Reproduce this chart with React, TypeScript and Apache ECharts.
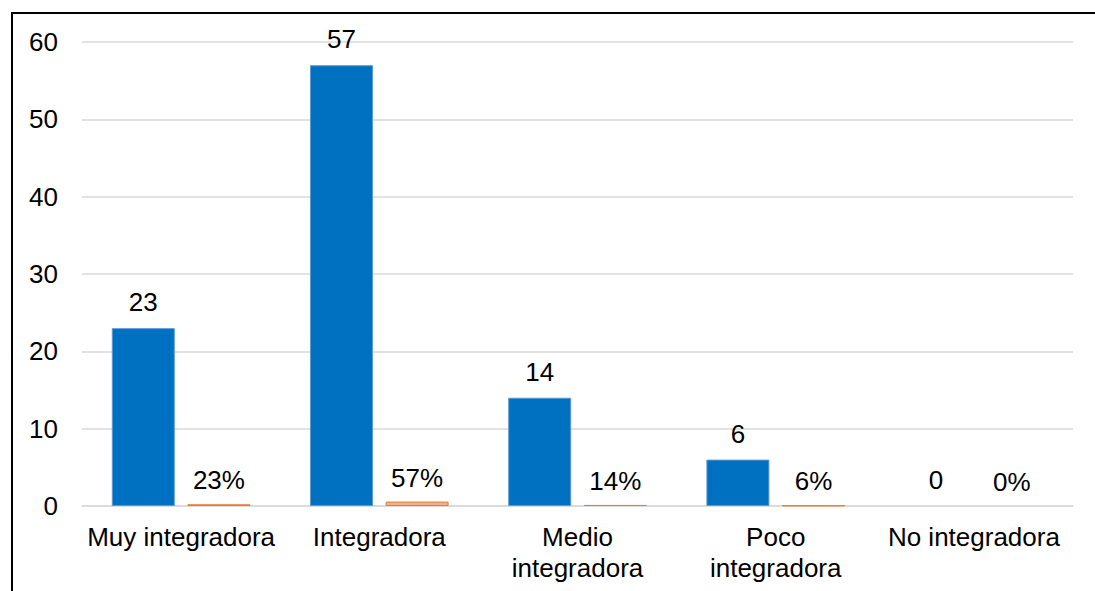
import React, { useEffect, useRef } from "react";
import * as echarts from "echarts";

const categories = ["Muy integradora", "Integradora", "Medio\nintegradora", "Poco\nintegradora", "No integradora"];
const counts = [23, 57, 14, 6, 0];
const shares = [0.23, 0.57, 0.14, 0.06, 0];
const yTicks = { min: 0, max: 60, interval: 10 };

const FONT = "'Liberation Sans', Arial, sans-serif";
const FS = 26;

export default function App() {
  const ref = useRef<HTMLDivElement>(null);
  useEffect(() => {
    if (!ref.current) return;
    const chart = echarts.init(ref.current, null, { renderer: "svg" });
    const toItems = (vals: number[]) =>
      vals.map((v) => (v === 0 ? { value: v, itemStyle: { borderWidth: 0, opacity: 0 } } : v));
    chart.setOption({
      animation: false,
      backgroundColor: "#ffffff",
      textStyle: { fontFamily: FONT },
      graphic: [
        {
          type: "rect",
          shape: { x: 12, y: 13, width: 1200, height: 700 },
          style: { fill: "none", stroke: "#000000", lineWidth: 2 },
          silent: true,
        },
      ],
      grid: { left: 82, right: 22, top: 42, bottom: 85, containLabel: false },
      xAxis: {
        type: "category",
        data: categories,
        axisLine: { show: true, lineStyle: { color: "#D9D9D9", width: 1.5 } },
        axisTick: { show: false },
        axisLabel: {
          interval: 0,
          color: "#000000",
          fontSize: FS,
          lineHeight: 31,
          fontFamily: FONT,
          margin: 15,
          align: "center",
        },
      },
      yAxis: {
        type: "value",
        min: yTicks.min,
        max: yTicks.max,
        interval: yTicks.interval,
        axisLine: { show: false },
        axisTick: { show: false },
        splitLine: { lineStyle: { color: "#D9D9D9", width: 1.5 } },
        axisLabel: { color: "#000000", fontSize: FS, fontFamily: FONT, margin: 24 },
      },
      series: [
        {
          type: "bar",
          data: toItems(counts),
          barWidth: 63,
          barGap: "20%",
          itemStyle: { color: "#0070C0", borderColor: "#5B9BD5", borderWidth: 1 },
          label: {
            show: true,
            position: "top",
            distance: 13,
            color: "#000000",
            fontSize: FS,
            fontFamily: FONT,
            opacity: 1,
          },
        },
        {
          type: "bar",
          data: toItems(shares),
          barWidth: 63,
          itemStyle: { color: "#F4B183", borderColor: "#ED7D31", borderWidth: 1 },
          label: {
            show: true,
            position: "top",
            distance: 11,
            color: "#000000",
            fontSize: FS,
            fontFamily: FONT,
            opacity: 1,
            formatter: (p: any) => Math.round(p.value * 100) + "%",
          },
        },
      ],
    });
    return () => chart.dispose();
  }, []);
  return (
    <div
      ref={ref}
      style={{ position: "absolute", left: 0, top: 0, width: 1095, height: 591 }}
    />
  );
}
